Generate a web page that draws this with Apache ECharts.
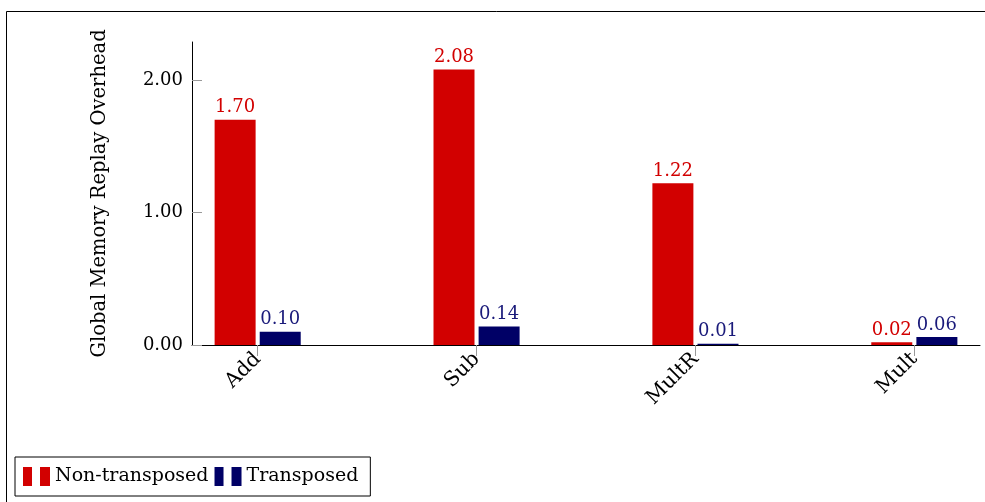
<!DOCTYPE html>
<html>
<head>
<meta charset="utf-8">
<script src="https://cdn.jsdelivr.net/npm/echarts@6/dist/echarts.min.js"></script>
<style>html,body{margin:0;padding:0;background:#fff}#c{width:985px;height:502px}</style>
</head>
<body>
<div id="c"></div>
<script>
const categories = ['Add', 'Sub', 'MultR', 'Mult'];
const nonTransposed = [1.70, 2.08, 1.22, 0.02];
const transposed = [0.10, 0.14, 0.01, 0.06];
const yTicks = [0, 1, 2];

const RED = '#d20000';
const BLUE = '#000066';
const FONT = 'DejaVu Serif';
const FS_NUM = 18;
const FS_TXT = 19;

const chart = echarts.init(document.getElementById('c'), null, {renderer: 'canvas'});
const mk = (arr) => arr.map((v, i) => [i, v]);
const barLabel = (color) => ({
  show: true, position: 'top', distance: 3, color: color,
  fontFamily: FONT, fontSize: FS_NUM,
  formatter: p => p.value[1].toFixed(2)
});
const legendIcon = 'path://M0,0h9v19h-9z M17,0h10v19h-10z';
chart.setOption({
  animation: false,
  backgroundColor: '#fff',
  graphic: [{
    type: 'rect', shape: {x: 6.5, y: 11.5, width: 1000, height: 600},
    style: {fill: 'none', stroke: '#000', lineWidth: 1}, z: -1
  }],
  grid: {left: 192, top: 42, right: 5, bottom: 157, containLabel: false},
  xAxis: {
    type: 'value', min: -0.3, max: 3.3, position: 'bottom',
    splitLine: {show: false},
    axisLine: {show: true, onZero: false, lineStyle: {color: '#000', width: 1}},
    axisTick: {show: true, customValues: categories.map((c, i) => i), length: 11, lineStyle: {color: '#999'}},
    axisLabel: {
      show: true, customValues: categories.map((c, i) => i), rotate: 45, margin: 11,
      fontFamily: FONT, fontSize: 20.5, color: '#000',
      formatter: v => categories[Math.round(v)]
    }
  },
  yAxis: {
    type: 'value', min: 0, max: 2.287, position: 'left',
    name: 'Global Memory Replay Overhead', nameLocation: 'middle', nameGap: 82,
    nameTextStyle: {fontFamily: FONT, fontSize: 19.5, color: '#000'},
    splitLine: {show: false},
    axisLine: {show: true, onZero: false, lineStyle: {color: '#000', width: 1}},
    axisTick: {show: true, inside: true, length: 10, customValues: yTicks, lineStyle: {color: '#999'}},
    axisLabel: {
      margin: 9, fontFamily: FONT, fontSize: FS_NUM, color: '#000', customValues: yTicks,
      formatter: v => v.toFixed(2)
    }
  },
  legend: {
    left: 15, top: 457, orient: 'horizontal',
    backgroundColor: '#fff', borderColor: '#000', borderWidth: 1,
    padding: [10, 12, 10, 8], itemGap: 6, itemWidth: 27, itemHeight: 19,
    textStyle: {fontFamily: FONT, fontSize: FS_TXT, color: '#000'},
    data: [
      {name: 'Non-transposed', icon: legendIcon, itemStyle: {color: RED}},
      {name: 'Transposed', icon: legendIcon, itemStyle: {color: BLUE}}
    ]
  },
  series: [
    {name: 'Non-transposed', type: 'bar', data: mk(nonTransposed), barWidth: 41, barGap: '10%',
     itemStyle: {color: RED}, label: barLabel(RED)},
    {name: 'Transposed', type: 'bar', data: mk(transposed), barWidth: 41, barGap: '10%',
     itemStyle: {color: BLUE}, label: barLabel('#1a1a7a')}
  ]
});
</script>
</body>
</html>
